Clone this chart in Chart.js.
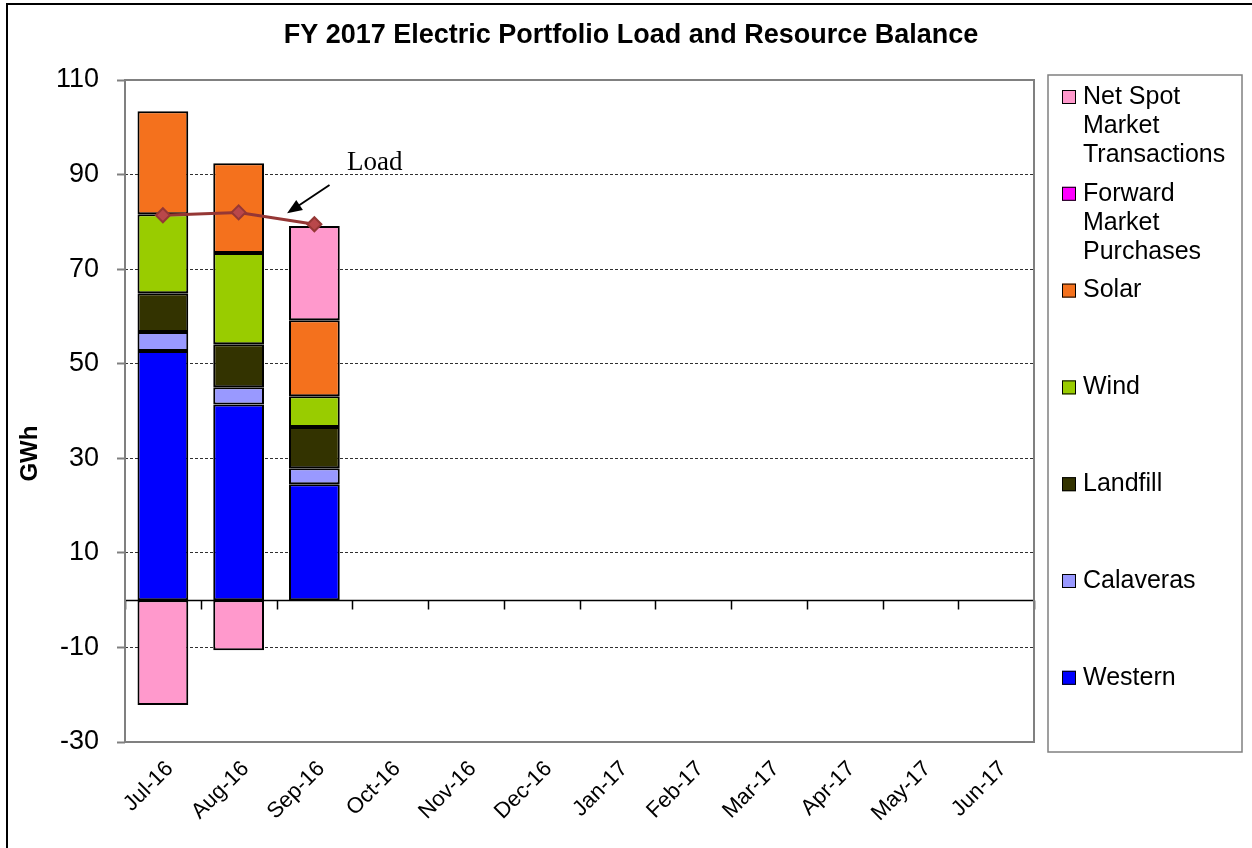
<!DOCTYPE html>
<html>
<head>
<meta charset="utf-8">
<title>FY 2017 Electric Portfolio Load and Resource Balance</title>
<script src="https://cdn.jsdelivr.net/npm/chart.js@4.4.1/dist/chart.umd.min.js"></script>
<style>
    html, body { margin: 0; padding: 0; background: #fff; }
    #wrap { width: 1252px; height: 848px; }
</style>
</head>
<body>
<div id="wrap"><canvas id="balance-chart" width="1252" height="848"></canvas></div>
<script>
// Fiscal year months
const months = ['Jul-16', 'Aug-16', 'Sep-16', 'Oct-16', 'Nov-16', 'Dec-16',
    'Jan-17', 'Feb-17', 'Mar-17', 'Apr-17', 'May-17', 'Jun-17'];

// Resources, GWh per month (only Jul-Sep reported so far)
const western = [52.7, 41.4, 24.5];
const calaveras = [4.0, 3.6, 3.4];
const landfill = [8.2, 9.1, 8.7];
const wind = [16.7, 19.3, 6.5];
const solar = [21.8, 19.0, 16.1];
const forwardPurchases = [];
const netSpot = [-22.2, -10.6, 19.9];

// Load, GWh
const load = [81.4, 82.0, 79.5];

const yTicks = {min: -30, max: 110, step: 20};

const chartTitle = 'FY 2017 Electric Portfolio Load and Resource Balance';

const FONT = "'Liberation Sans', Arial, sans-serif";

const barStyle = {
    type: 'bar',
    borderColor: '#000',
    borderWidth: 2,
    borderSkipped: false,
    barPercentage: 0.67,
    categoryPercentage: 1,
    stack: 'resources',
    order: 1
};

// Plot frame, zero line and the small category ticks sitting on it
const plotFrame = {
    id: 'plotFrame',
    beforeDatasetsDraw(chart) {
        const {ctx, chartArea: a, scales: {x, y}} = chart;
        const zeroY = Math.round(y.getPixelForValue(0)) + 0.5;
        ctx.save();
        ctx.strokeStyle = '#000';
        ctx.lineWidth = 1.5;
        ctx.beginPath();
        ctx.moveTo(a.left, zeroY);
        ctx.lineTo(a.right, zeroY);
        const step = x.getPixelForValue(1) - x.getPixelForValue(0);
        for (let i = 0; i <= months.length; i++) {
            const px = Math.round(a.left + i * step) + 0.5;
            ctx.moveTo(px, zeroY);
            ctx.lineTo(px, zeroY + 9);
        }
        ctx.stroke();
        ctx.restore();
    },
    afterDraw(chart) {
        const {ctx, chartArea: a, scales: {y}} = chart;
        ctx.save();
        ctx.strokeStyle = '#808080';
        ctx.lineWidth = 2;
        ctx.strokeRect(a.left, a.top, a.right - a.left, a.bottom - a.top);

        // outer border of the figure
        ctx.strokeStyle = '#000';
        ctx.beginPath();
        ctx.moveTo(7, chart.height);
        ctx.lineTo(7, 4);
        ctx.lineTo(chart.width, 4);
        ctx.stroke();

        // title, centred on the whole figure
        ctx.fillStyle = '#000';
        ctx.font = 'bold 27px ' + FONT;
        ctx.textAlign = 'center';
        ctx.textBaseline = 'middle';
        ctx.fillText(chartTitle, 631, 36);

        // value axis title
        ctx.translate(30, y.getPixelForValue(31));
        ctx.rotate(-Math.PI / 2);
        ctx.font = 'bold 24px ' + FONT;
        ctx.fillText('GWh', 0, 0);
        ctx.restore();
    }
};

// "Load" callout with arrow pointing at the load line
const loadCallout = {
    id: 'loadCallout',
    afterDatasetsDraw(chart) {
        const {ctx, scales: {x, y}} = chart;
        const x0 = x.getPixelForValue(0);
        const step = x.getPixelForValue(1) - x0;
        const px = i => x0 + i * step;

        const tipX = px(1.64), tipY = y.getPixelForValue(81.8);
        const tailX = px(2.2), tailY = y.getPixelForValue(87.8);
        const ang = Math.atan2(tipY - tailY, tipX - tailX);

        ctx.save();
        ctx.strokeStyle = '#000';
        ctx.fillStyle = '#000';
        ctx.lineWidth = 2;
        ctx.beginPath();
        ctx.moveTo(tailX, tailY);
        ctx.lineTo(tipX - 10 * Math.cos(ang), tipY - 10 * Math.sin(ang));
        ctx.stroke();
        ctx.beginPath();
        ctx.moveTo(tipX, tipY);
        ctx.lineTo(tipX - 15 * Math.cos(ang) + 6 * Math.sin(ang), tipY - 15 * Math.sin(ang) - 6 * Math.cos(ang));
        ctx.lineTo(tipX - 15 * Math.cos(ang) - 6 * Math.sin(ang), tipY - 15 * Math.sin(ang) + 6 * Math.cos(ang));
        ctx.closePath();
        ctx.fill();

        ctx.font = "27px 'Liberation Serif', 'Times New Roman', serif";
        ctx.textBaseline = 'middle';
        ctx.fillText('Load', px(2.43), y.getPixelForValue(92.4));
        ctx.restore();
    }
};

// Boxed legend on the right, items spread over the plot height
const boxLegend = {
    id: 'boxLegend',
    afterDraw(chart) {
        const {ctx, chartArea: a} = chart;
        const left = a.right + 14, right = chart.width - 10;
        const top = a.top - 5, bottom = a.bottom + 10;
        ctx.save();
        ctx.strokeStyle = '#808080';
        ctx.lineWidth = 1.5;
        ctx.strokeRect(left, top, right - left, bottom - top);

        ctx.font = '25px ' + FONT;
        ctx.textBaseline = 'middle';
        const items = chart.data.datasets.filter(d => d.type === 'bar').reverse();
        items.forEach((ds, i) => {
            const cy = a.top + 17 + i * 96.8;
            // wrap the label to the box width
            const lines = [];
            let cur = '';
            ds.label.split(' ').forEach(w => {
                const t = cur ? cur + ' ' + w : w;
                if (cur && ctx.measureText(t).width > 150) {
                    lines.push(cur);
                    cur = w;
                } else {
                    cur = t;
                }
            });
            lines.push(cur);

            ctx.fillStyle = ds.backgroundColor;
            ctx.fillRect(left + 14, cy - 7, 14, 14);
            ctx.strokeStyle = '#000';
            ctx.lineWidth = 1;
            ctx.strokeRect(left + 14.5, cy - 6.5, 13, 13);
            ctx.fillStyle = '#000';
            lines.forEach((ln, j) => ctx.fillText(ln, left + 35, cy + j * 29));
        });
        ctx.restore();
    }
};

new Chart(document.getElementById('balance-chart'), {
    data: {
        labels: months,
        datasets: [
            {...barStyle, label: 'Western', data: western, backgroundColor: '#0000FF'},
            {...barStyle, label: 'Calaveras', data: calaveras, backgroundColor: '#9999FF'},
            {...barStyle, label: 'Landfill', data: landfill, backgroundColor: '#333300'},
            {...barStyle, label: 'Wind', data: wind, backgroundColor: '#99CC00'},
            {...barStyle, label: 'Solar', data: solar, backgroundColor: '#F4711D'},
            {...barStyle, label: 'Forward Market Purchases', data: forwardPurchases, backgroundColor: '#FF00FF'},
            {...barStyle, label: 'Net Spot Market Transactions', data: netSpot, backgroundColor: '#FF99CC'},
            {
                type: 'line',
                label: 'Load',
                data: load,
                stack: 'load',
                order: 0,
                borderColor: '#953735',
                borderWidth: 3,
                pointStyle: 'rectRot',
                pointRadius: 7,
                pointBackgroundColor: '#B9474A',
                pointBorderColor: '#953735',
                pointBorderWidth: 2
            }
        ]
    },
    options: {
        responsive: false,
        animation: false,
        devicePixelRatio: 1,
        layout: {padding: {left: 0, right: 218, top: 80, bottom: 0}},
        plugins: {
            legend: {display: false},
            tooltip: {enabled: false},
            title: {display: false}
        },
        scales: {
            x: {
                stacked: true,
                grid: {display: false},
                border: {display: false},
                ticks: {
                    color: '#000',
                    font: {family: FONT, size: 22},
                    minRotation: 45,
                    maxRotation: 45,
                    padding: 6,
                    labelOffset: 7,
                    autoSkip: false
                },
                afterFit: scale => { scale.height = 106; }
            },
            y: {
                stacked: true,
                min: yTicks.min,
                max: yTicks.max,
                border: {display: false, dash: [3, 2]},
                grid: {
                    color: c => [0, yTicks.min, yTicks.max].includes(c.tick && c.tick.value) ? 'rgba(0,0,0,0)' : '#303030',
                    lineWidth: 1,
                    tickColor: '#808080',
                    tickLength: 8,
                    tickWidth: 2
                },
                ticks: {
                    stepSize: yTicks.step,
                    color: '#000',
                    font: {family: FONT, size: 27},
                    padding: 18
                },
                afterFit: scale => { scale.width = 125; }
            }
        }
    },
    plugins: [plotFrame, loadCallout, boxLegend]
});
</script>
</body>
</html>
